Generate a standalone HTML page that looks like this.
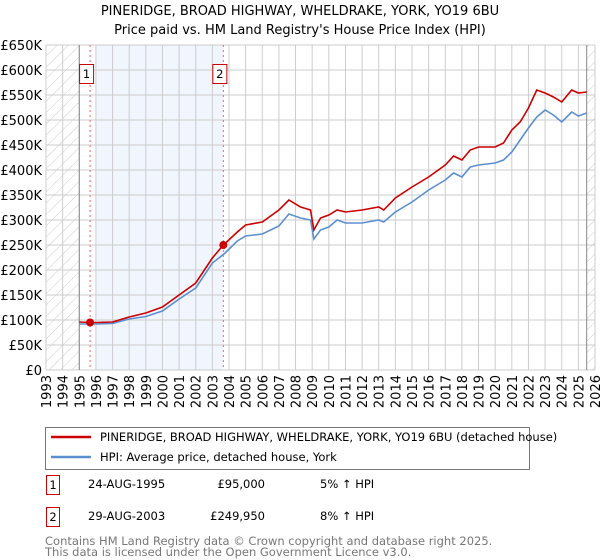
<!DOCTYPE html>
<html><head><meta charset="utf-8"><style>
body{margin:0;background:#fff;width:600px;height:560px;overflow:hidden;font-family:"DejaVu Sans","Liberation Sans",sans-serif;}
svg{display:block}
</style></head><body>
<svg id="chart" width="600" height="560" font-family="DejaVu Sans, Liberation Sans, sans-serif">
<defs>
<pattern id="hatch" width="8" height="8" patternUnits="userSpaceOnUse" patternTransform="rotate(45)">
<line x1="0" y1="0" x2="0" y2="8" stroke="#ccc" stroke-width="1"/>
</pattern>
</defs>
<text x="300" y="15" text-anchor="middle" font-size="13">PINERIDGE, BROAD HIGHWAY, WHELDRAKE, YORK, YO19 6BU</text>
<text x="300" y="34" text-anchor="middle" font-size="13">Price paid vs. HM Land Registry's House Price Index (HPI)</text>
<g id="plot"></g>
<rect x="45.5" y="427.5" width="484" height="42" fill="#fff" stroke="#777"/>
<line x1="51" y1="437" x2="91" y2="437" stroke="#cc0000" stroke-width="2.5"/>
<text x="100" y="441" font-size="11.5">PINERIDGE, BROAD HIGHWAY, WHELDRAKE, YORK, YO19 6BU (detached house)</text>
<line x1="51" y1="457" x2="91" y2="457" stroke="#5b8fd0" stroke-width="2.5"/>
<text x="100" y="461" font-size="11.5">HPI: Average price, detached house, York</text>
<g font-size="11.5">
<rect x="46.5" y="475.5" width="13" height="19" fill="#fff" stroke="#cc0000"/>
<text x="53" y="489" text-anchor="middle">1</text>
<text x="88" y="488">24-AUG-1995</text>
<text x="265" y="488" text-anchor="end">£95,000</text>
<text x="320" y="488">5% ↑ HPI</text>
<rect x="46.5" y="507.5" width="13" height="19" fill="#fff" stroke="#cc0000"/>
<text x="53" y="521" text-anchor="middle">2</text>
<text x="88" y="520">29-AUG-2003</text>
<text x="265" y="520" text-anchor="end">£249,950</text>
<text x="320" y="520">8% ↑ HPI</text>
</g>
<text x="45" y="545" font-size="11.5" fill="#777">Contains HM Land Registry data © Crown copyright and database right 2025.</text>
<text x="45" y="556" font-size="11.5" fill="#777">This data is licensed under the Open Government Licence v3.0.</text>
</svg>
<script>
const hpiYears=[1995,1996,1997,1998,1999,2000,2001,2002,2003,2003.7,2004.5,2005,2006,2007,2007.6,2008.3,2008.9,2009.1,2009.5,2010,2010.5,2011,2012,2013,2013.3,2014,2015,2016,2017,2017.5,2018,2018.5,2019,2020,2020.5,2021,2021.5,2022,2022.5,2023,2023.5,2024,2024.6,2025,2025.5];
const hpiValues=[92,92,93,102,107,118,142,164,214,232,258,268,272,288,312,304,300,262,280,286,300,294,294,300,296,316,336,360,380,394,386,406,410,414,420,436,460,484,506,520,510,496,516,508,514];
const priceYears=[1995,1995.65,1996,1997,1998,1999,2000,2001,2002,2003,2003.66,2004.5,2005,2006,2007,2007.6,2008.3,2008.9,2009.1,2009.5,2010,2010.5,2011,2012,2013,2013.3,2014,2015,2016,2017,2017.5,2018,2018.5,2019,2020,2020.5,2021,2021.5,2022,2022.5,2023,2023.5,2024,2024.6,2025,2025.5];
const priceValues=[96,95,95,96,106,114,126,150,174,224,250,276,290,296,320,340,326,320,280,304,310,320,316,320,326,320,344,366,386,410,428,420,440,446,446,454,480,496,524,560,554,546,536,560,554,556];
const saleYears=[1995.65,2003.66];
const saleValues=[95,249.95];
const saleLabels=['1','2'];
const yTicks=[0,50,100,150,200,250,300,350,400,450,500,550,600,650];
const xTicks=[1993,1994,1995,1996,1997,1998,1999,2000,2001,2002,2003,2004,2005,2006,2007,2008,2009,2010,2011,2012,2013,2014,2015,2016,2017,2018,2019,2020,2021,2022,2023,2024,2025,2026];

const X0=46,X1=595,Y0=370,Y1=45;
const xs=y=>X0+(y-1993)/(2026-1993)*(X1-X0);
const ys=v=>Y0-v/650*(Y0-Y1);
const NS='http://www.w3.org/2000/svg';
const g=document.getElementById('plot');
function mk(t,a){const e=document.createElementNS(NS,t);for(const k in a)e.setAttribute(k,a[k]);g.appendChild(e);return e;}
let e;
e=mk('rect',{x:xs(1996),y:Y1,width:xs(2003.66)-xs(1996),height:Y0-Y1,fill:'#eef3fc',opacity:0.8});


e=mk('rect',{x:X0,y:Y1,width:xs(1995)-X0,height:Y0-Y1,fill:'url(#hatch)'});


e=mk('rect',{x:xs(2025.5),y:Y1,width:X1-xs(2025.5),height:Y0-Y1,fill:'url(#hatch)'});


yTicks.forEach(v=>{
 e=mk('line',{x1:X0,x2:X1,y1:ys(v),y2:ys(v),stroke:'#ccc','stroke-width':1});
 
 
 e=mk('text',{x:X0-4,y:ys(v)+5,'text-anchor':'end','font-size':13});
 e.textContent=v===0?'£0':'£'+v+'K';
 
 
});
xTicks.forEach(y=>{
 e=mk('line',{x1:xs(y),x2:xs(y),y1:Y1,y2:Y0,stroke:'#ccc','stroke-width':1});
 
 
 e=mk('text',{x:0,y:0,'text-anchor':'end','font-size':13,transform:`translate(${xs(y)+5},${Y0+5}) rotate(-90)`});
 e.textContent=y;
 
 
});
[1995,2025.5].forEach(y=>{
 e=mk('line',{x1:xs(y),x2:xs(y),y1:Y1,y2:Y0,stroke:'#888','stroke-width':1});
 
 
});
saleYears.forEach((y,i)=>{
 e=mk('line',{x1:xs(y),x2:xs(y),y1:Y1,y2:Y0,stroke:'#e66','stroke-width':1,'stroke-dasharray':'2,3'});
 
 
 e=mk('rect',{x:xs(y)-10.5,y:64.5,width:14,height:19,fill:'#fff',stroke:'#cc0000'});
 
 
 e=mk('text',{x:xs(y)-3.5,y:78,'text-anchor':'middle','font-size':11.5});
 e.textContent=saleLabels[i];
 
 
});
e=mk('polyline',{points:hpiYears.map((y,i)=>xs(y)+','+ys(hpiValues[i])).join(' '),fill:'none',stroke:'#5b8fd0','stroke-width':1.6});


e=mk('polyline',{points:priceYears.map((y,i)=>xs(y)+','+ys(priceValues[i])).join(' '),fill:'none',stroke:'#cc0000','stroke-width':1.6});


saleYears.forEach((y,i)=>{
 e=mk('circle',{cx:xs(y),cy:ys(saleValues[i]),r:4,fill:'#cc0000'});
 
 
});
</script>
</body></html>
